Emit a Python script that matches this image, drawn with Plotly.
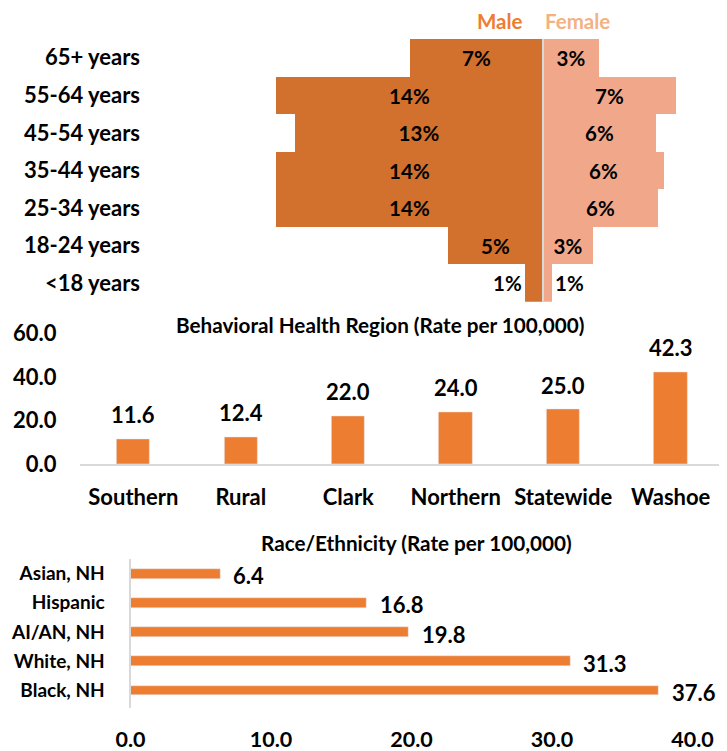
import plotly.graph_objects as go

# ---------------- data ----------------
age_groups = ["65+ years", "55-64 years", "45-54 years", "35-44 years",
              "25-34 years", "18-24 years", "<18 years"]
male_pct = [7.0, 14.0, 13.0, 14.0, 14.0, 5.0, 0.95]
female_pct = [2.95, 7.0, 5.95, 6.35, 6.05, 2.65, 0.45]
male_labels = ["7%", "14%", "13%", "14%", "14%", "5%", "1%"]
female_labels = ["3%", "7%", "6%", "6%", "6%", "3%", "1%"]

regions = ["Southern", "Rural", "Clark", "Northern", "Statewide", "Washoe"]
region_rates = [11.6, 12.4, 22.0, 24.0, 25.0, 42.3]

races = ["Asian, NH", "Hispanic", "AI/AN, NH", "White, NH", "Black, NH"]
race_rates = [6.4, 16.8, 19.8, 31.3, 37.6]

region_title = "Behavioral Health Region (Rate per 100,000)"
race_title = "Race/Ethnicity (Rate per 100,000)"

# ---------------- styling ----------------
OFF = 8                      # page body margin in the browser
W, H = 727 - OFF, 751 - OFF  # figure size so that it fills the window
FONT = "Lato"
MALE_C = "#D2702D"
FEMALE_C = "#F1A88A"
BAR_C = "#ED7D31"
AXIS_C = "#D9D9D9"


def fx(px):
    return (px - OFF) / W


def fy(py):
    return 1 - (py - OFF) / H


fig = go.Figure()

male_pos = ["inside"] * (len(age_groups) - 1) + ["outside"]
female_pos = ["inside"] * (len(age_groups) - 1) + ["outside"]
label_font = dict(family=FONT, size=20.5, color="black", weight=700)
value_font = dict(family=FONT, size=22, color="black", weight=700)

fig.add_trace(go.Bar(
    y=age_groups, x=[-v for v in male_pct], orientation="h",
    marker=dict(color=MALE_C, line=dict(width=0)),
    text=male_labels, textposition=male_pos, insidetextanchor="middle",
    textfont=label_font, constraintext="none", cliponaxis=False,
    xaxis="x", yaxis="y", showlegend=False, hoverinfo="skip",
))
fig.add_trace(go.Bar(
    y=age_groups, x=female_pct, orientation="h",
    marker=dict(color=FEMALE_C, line=dict(width=0)),
    text=female_labels, textposition=female_pos, insidetextanchor="middle",
    textfont=label_font, constraintext="none", cliponaxis=False,
    xaxis="x", yaxis="y", showlegend=False, hoverinfo="skip",
))

fig.add_trace(go.Bar(
    x=regions, y=region_rates, width=0.31,
    marker=dict(color=BAR_C),
    xaxis="x2", yaxis="y2", showlegend=False, hoverinfo="skip",
))

fig.add_trace(go.Bar(
    y=races, x=race_rates, orientation="h", width=0.34,
    marker=dict(color=BAR_C),
    xaxis="x3", yaxis="y3", showlegend=False, hoverinfo="skip",
))

annotations = []
for r, v in zip(regions, region_rates):
    annotations.append(dict(x=r, y=v, xref="x2", yref="y2", text=f"{v:.1f}",
                            showarrow=False, yanchor="bottom", yshift=9,
                            font=value_font))
for r, v in zip(races, race_rates):
    annotations.append(dict(x=v, y=r, xref="x3", yref="y3", text=f"{v:.1f}",
                            showarrow=False, xanchor="left", xshift=11, yshift=-2,
                            font=value_font))

annotations += [
    dict(x=fx(524), y=fy(8), xref="paper", yref="paper", text="Male",
         xanchor="right", yanchor="top", showarrow=False, borderpad=0,
         font=dict(family=FONT, size=20.5, color="#ED7D31", weight=700)),
    dict(x=fx(544), y=fy(8), xref="paper", yref="paper", text="Female",
         xanchor="left", yanchor="top", showarrow=False, borderpad=0,
         font=dict(family=FONT, size=20.5, color="#F4B183", weight=700)),
    dict(x=fx(380), y=fy(325), xref="paper", yref="paper", text=region_title,
         yanchor="middle", showarrow=False,
         font=dict(family=FONT, size=20.7, color="black", weight=700)),
    dict(x=fx(416), y=fy(543), xref="paper", yref="paper", text=race_title,
         yanchor="middle", showarrow=False,
         font=dict(family=FONT, size=20.7, color="black", weight=700)),
]

tickfont = dict(family=FONT, size=22, color="black", weight=700)
race_tickfont = dict(family=FONT, size=19, color="black", weight=700)
xtick3font = dict(family=FONT, size=21.5, color="black", weight=700)

zero_px = 543
scale = 19.05
pyr_left, pyr_right = 145, 722

fig.update_layout(
    width=W, height=H,
    margin=dict(l=0, r=0, t=0, b=0, autoexpand=False),
    paper_bgcolor="white", plot_bgcolor="white",
    font=dict(family=FONT, weight=700),
    barmode="overlay",
    bargap=0,
    annotations=annotations,
    shapes=[dict(type="line", xref="x", yref="y domain", x0=0, x1=0, y0=0, y1=1,
                 line=dict(color=AXIS_C, width=2), layer="above")],
    xaxis=dict(domain=[fx(pyr_left), fx(pyr_right)],
               range=[-(zero_px - pyr_left) / scale, (pyr_right - zero_px) / scale],
               visible=False, fixedrange=True, automargin=False),
    yaxis=dict(domain=[fy(301.7), fy(39)], categoryorder="array",
               categoryarray=age_groups[::-1], showline=False, showgrid=False,
               zeroline=False, ticks="", tickfont=tickfont, ticklabelstandoff=4,
               automargin=False),
    xaxis2=dict(domain=[fx(79.6), fx(724.4)], anchor="y2", showline=True,
                linecolor=AXIS_C, linewidth=2, showgrid=False, ticks="",
                tickfont=tickfont, ticklabelstandoff=12, automargin=False),
    yaxis2=dict(domain=[fy(464.3), fy(333.2)], anchor="x2", range=[0, 60],
                tickvals=[0, 20, 40, 60], tickformat=".1f", showgrid=False,
                zeroline=False, showline=False, ticks="", tickfont=tickfont,
                ticklabelstandoff=22, automargin=False),
    xaxis3=dict(domain=[fx(130.5), fx(692.5)], anchor="y3", range=[0, 40],
                tickvals=[0, 10, 20, 30, 40], tickformat=".1f", showgrid=False,
                zeroline=False, showline=False, ticks="", tickfont=xtick3font,
                ticklabelstandoff=16, automargin=False),
    yaxis3=dict(domain=[fy(708), fy(559)], anchor="x3", categoryorder="array",
                categoryarray=races[::-1], showline=True, linecolor=AXIS_C,
                linewidth=2, showgrid=False, ticks="", tickfont=race_tickfont,
                ticklabelstandoff=20, automargin=False),
)

fig.write_html("out.html")
